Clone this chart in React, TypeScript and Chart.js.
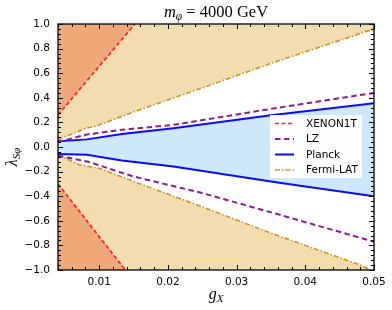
import React, { useEffect, useRef } from 'react';
import { Chart, registerables } from 'chart.js';

Chart.register(...registerables);

// ---------- data ----------
const xTicks = [0.01, 0.02, 0.03, 0.04, 0.05];
const yTicks = [-1.0, -0.8, -0.6, -0.4, -0.2, 0.0, 0.2, 0.4, 0.6, 0.8, 1.0];
const seriesNames = ['XENON1T', 'LZ', 'Planck', 'Fermi-LAT'];

const xenonUpperX = [0.004, 0.0152];
const xenonUpperY = [0.26, 1.0];
const xenonLowerX = [0.004, 0.0138];
const xenonLowerY = [-0.3, -1.0];

const lzUpperX = [0.004, 0.0082, 0.0133, 0.0208, 0.035, 0.05];
const lzUpperY = [0.04, 0.102, 0.14, 0.18, 0.31, 0.44];
const lzLowerX = [0.004, 0.0084, 0.015, 0.0247, 0.0362, 0.05];
const lzLowerY = [-0.07, -0.12, -0.24, -0.37, -0.55, -0.77];

const planckUpperX = [0.004, 0.0082, 0.0133, 0.0208, 0.035, 0.05];
const planckUpperY = [0.047, 0.062, 0.105, 0.152, 0.258, 0.355];
const planckLowerX = [0.004, 0.0082, 0.0133, 0.0208, 0.0362, 0.05];
const planckLowerY = [-0.056, -0.064, -0.11, -0.158, -0.29, -0.4];

const fermiUpperX = [0.004, 0.0082, 0.0094, 0.015, 0.0247, 0.035, 0.05];
const fermiUpperY = [0.06, 0.155, 0.167, 0.285, 0.475, 0.68, 0.96];
const fermiLowerX = [0.004, 0.0072, 0.0101, 0.015, 0.0247, 0.035, 0.048, 0.0495];
const fermiLowerY = [-0.065, -0.146, -0.175, -0.28, -0.48, -0.7, -0.96, -1.0];

// ---------- styles ----------
const C = {
  red: '#ff2020',
  purple: '#8b1c8b',
  blue: '#0a0aff',
  gold: '#c9982c',
  orange: '#f0a878',
  tan: '#f3ddae',
  lightBlue: '#cde8fa',
};
const legendStyles = [
  { color: C.red, dash: [4, 2.5], width: 1.7 },
  { color: C.purple, dash: [5.5, 3.5], width: 2 },
  { color: C.blue, dash: [], width: 2 },
  { color: C.gold, dash: [5, 2, 1.5, 2], width: 1.7 },
];

const pts = (xs: number[], ys: number[]) => xs.map((x, i) => ({ x, y: ys[i] }));

const SERIF = '"Liberation Serif", "DejaVu Serif", serif';
const SANS = '"DejaVu Sans", sans-serif';

type Seg = { t: string; size: number; italic?: boolean; dy?: number };

function drawRich(ctx: CanvasRenderingContext2D, segs: Seg[], x: number, y: number, center: boolean) {
  const widths = segs.map((s) => {
    ctx.font = `${s.italic ? 'italic ' : ''}${s.size}px ${SERIF}`;
    return ctx.measureText(s.t).width;
  });
  const total = widths.reduce((a, b) => a + b, 0);
  let cx = center ? x - total / 2 : x;
  ctx.textAlign = 'left';
  ctx.textBaseline = 'alphabetic';
  segs.forEach((s, i) => {
    ctx.font = `${s.italic ? 'italic ' : ''}${s.size}px ${SERIF}`;
    ctx.fillText(s.t, cx, y + (s.dy || 0));
    cx += widths[i];
  });
}

const decorPlugin = {
  id: 'decor',
  afterDatasetsDraw(chart: any) {
    const { ctx, chartArea: a, scales } = chart;
    const xs = scales.x;
    const ys = scales.y;
    ctx.save();

    // legend
    const lx = 270, ly = 115, lw = 92, lh = 63;
    ctx.fillStyle = 'rgba(255,255,255,0.95)';
    ctx.fillRect(lx, ly, lw, lh);
    ctx.font = `10.5px ${SANS}`;
    ctx.textBaseline = 'middle';
    ctx.textAlign = 'left';
    seriesNames.forEach((name, i) => {
      const yy = ly + 8.5 + i * 15.5;
      const st = legendStyles[i];
      ctx.strokeStyle = st.color;
      ctx.lineWidth = st.width;
      ctx.setLineDash(st.dash);
      ctx.beginPath();
      ctx.moveTo(lx + 5, yy);
      ctx.lineTo(lx + 24, yy);
      ctx.stroke();
      ctx.setLineDash([]);
      ctx.fillStyle = '#000';
      ctx.fillText(name, lx + 36, yy + 0.5);
    });

    // frame and inward ticks
    ctx.strokeStyle = '#000';
    ctx.lineWidth = 1;
    ctx.beginPath();
    for (let i = 2; i <= 25; i++) {
      const v = i * 0.002;
      const px = Math.round(xs.getPixelForValue(v)) + 0.5;
      const major = i % 5 === 0;
      const len = major ? 5 : 3;
      ctx.moveTo(px, a.bottom);
      ctx.lineTo(px, a.bottom - len);
      ctx.moveTo(px, a.top);
      ctx.lineTo(px, a.top + len);
    }
    for (let i = -25; i <= 25; i++) {
      const v = i * 0.04;
      const py = Math.round(ys.getPixelForValue(v)) + 0.5;
      const major = i % 5 === 0;
      const len = major ? 5 : 3;
      ctx.moveTo(a.left, py);
      ctx.lineTo(a.left + len, py);
      ctx.moveTo(a.right, py);
      ctx.lineTo(a.right - len, py);
    }
    ctx.stroke();
    ctx.lineWidth = 1.3;
    ctx.strokeRect(a.left, a.top, a.right - a.left, a.bottom - a.top);

    // title
    ctx.fillStyle = '#000';
    const cxT = (a.left + a.right) / 2;
    drawRich(
      ctx,
      [
        { t: 'm', size: 16.5, italic: true },
        { t: 'φ', size: 11.5, italic: true, dy: 3 },
        { t: ' = 4000 GeV', size: 16.5 },
      ],
      cxT,
      17,
      true
    );

    // x label
    drawRich(
      ctx,
      [
        { t: 'g', size: 16, italic: true },
        { t: 'X', size: 11, italic: true, dy: 3 },
      ],
      cxT,
      299,
      true
    );

    // y label
    ctx.translate(17, 157);
    ctx.rotate(-Math.PI / 2);
    drawRich(
      ctx,
      [
        { t: 'λ', size: 16, italic: true },
        { t: 'Sφ', size: 11, italic: true, dy: 3 },
      ],
      0,
      0,
      true
    );
    ctx.restore();
  },
};

export default function App() {
  const ref = useRef<HTMLCanvasElement | null>(null);

  useEffect(() => {
    if (!ref.current) return;
    const line = (
      label: string,
      data: any[],
      color: string,
      dash: number[],
      width: number,
      fill: any,
      bg: string
    ) => ({
      label,
      data,
      borderColor: color,
      borderDash: dash,
      borderWidth: width,
      fill,
      backgroundColor: bg,
      pointRadius: 0,
      tension: 0,
    });
    const chart = new Chart(ref.current, {
      type: 'line',
      data: {
        datasets: [
          line(seriesNames[0], pts(xenonUpperX, xenonUpperY), C.red, legendStyles[0].dash, legendStyles[0].width, 'end', C.orange),
          line(seriesNames[0] + ' lower', pts(xenonLowerX, xenonLowerY), C.red, legendStyles[0].dash, legendStyles[0].width, 'start', C.orange),
          line(seriesNames[1], pts(lzUpperX, lzUpperY), C.purple, legendStyles[1].dash, legendStyles[1].width, false, 'transparent'),
          line(seriesNames[1] + ' lower', pts(lzLowerX, lzLowerY), C.purple, legendStyles[1].dash, legendStyles[1].width, false, 'transparent'),
          line(seriesNames[2], pts(planckUpperX, planckUpperY), C.blue, legendStyles[2].dash, legendStyles[2].width, '+1', C.lightBlue),
          line(seriesNames[2] + ' lower', pts(planckLowerX, planckLowerY), C.blue, legendStyles[2].dash, legendStyles[2].width, false, 'transparent'),
          line(seriesNames[3], pts(fermiUpperX, fermiUpperY), C.gold, legendStyles[3].dash, legendStyles[3].width, 'end', C.tan),
          line(seriesNames[3] + ' lower', pts(fermiLowerX, fermiLowerY), C.gold, legendStyles[3].dash, legendStyles[3].width, 'start', C.tan),
        ],
      },
      options: {
        responsive: false,
        devicePixelRatio: 1,
        animation: false,
        layout: { padding: { top: 24, right: 18, left: 0, bottom: 0 } },
        plugins: {
          legend: { display: false },
          tooltip: { enabled: false },
          filler: { drawTime: 'beforeDatasetsDraw' },
        } as any,
        scales: {
          x: {
            type: 'linear',
            min: 0.004,
            max: 0.05,
            afterBuildTicks: (s: any) => {
              s.ticks = xTicks.map((v) => ({ value: v }));
            },
            afterFit: (s: any) => {
              s.height = 40;
            },
            grid: { display: false, drawTicks: false },
            border: { display: false },
            ticks: {
              padding: 6,
              color: '#000',
              font: { family: SANS, size: 10.5 },
              maxRotation: 0,
              callback: (v: any) => Number(v).toFixed(2),
            },
          },
          y: {
            type: 'linear',
            min: -1,
            max: 1,
            afterBuildTicks: (s: any) => {
              s.ticks = yTicks.map((v) => ({ value: v }));
            },
            afterFit: (s: any) => {
              s.width = 58;
            },
            grid: { display: false, drawTicks: false },
            border: { display: false },
            ticks: {
              padding: 8,
              color: '#000',
              font: { family: SANS, size: 10.5 },
              callback: (v: any) => Number(v).toFixed(1).replace('-', '\u2212'),
            },
          },
        },
      },
      plugins: [decorPlugin],
    } as any);
    return () => chart.destroy();
  }, []);

  return (
    <div style={{ position: 'absolute', left: 0, top: 0, width: 392, height: 310, background: '#fff' }}>
      <canvas ref={ref} width={392} height={310} style={{ display: 'block', width: 392, height: 310 }} />
    </div>
  );
}
